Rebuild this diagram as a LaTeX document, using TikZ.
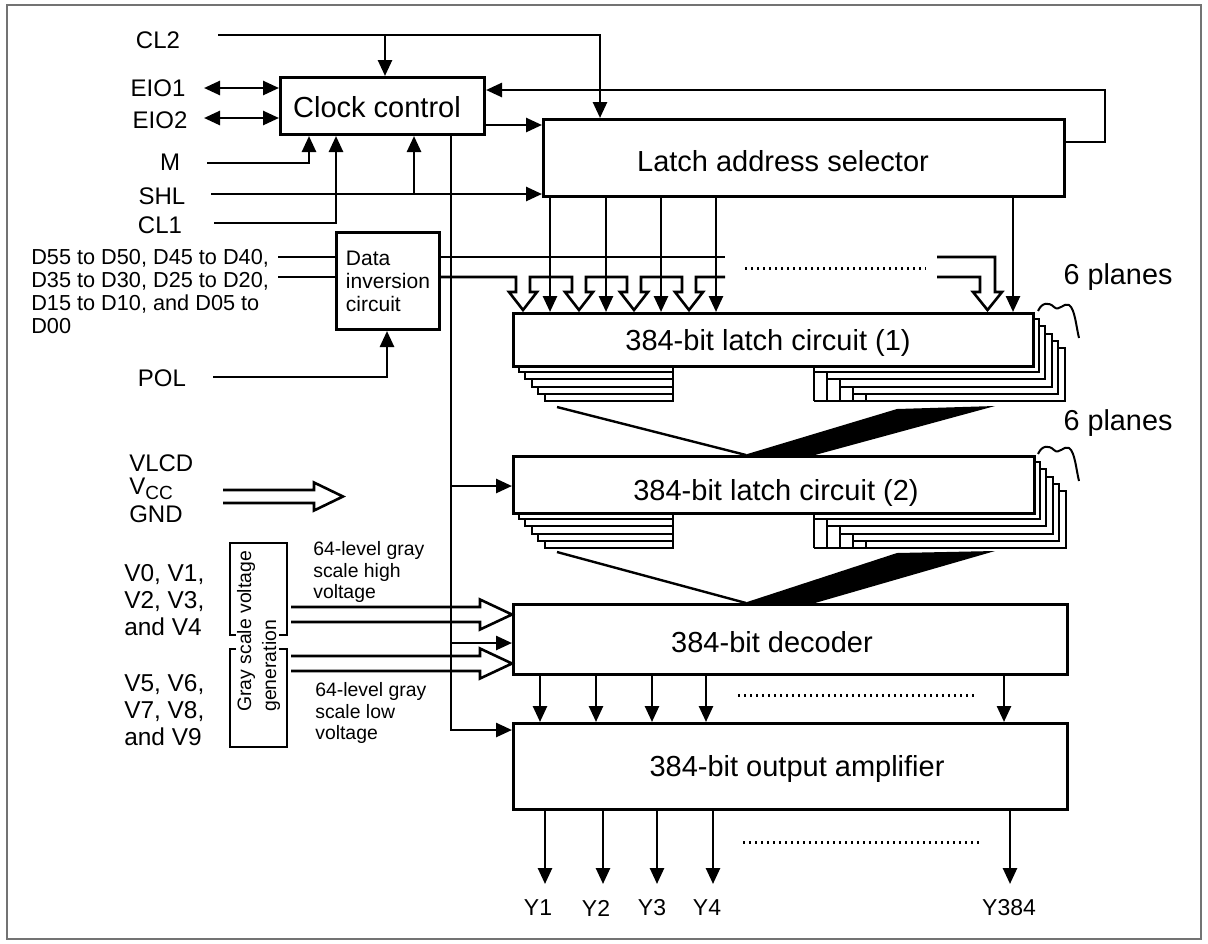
\documentclass[tikz,border=0pt]{standalone}
\usepackage{fontspec}
\setmainfont{Liberation Sans}
\usetikzlibrary{arrows.meta,calc}
\newcommand{\myplanes}[3]{%
  \foreach \k in {5,4,3,2,1}{%
    \pgfmathsetmacro{\pdx}{6.6*\k}%
    \pgfmathsetmacro{\pdy}{7.2*\k}%
    \pgfmathsetmacro{\pxr}{814+13*(\k-1)}%
    \filldraw[planest] (512+\pdx,#1+\pdy) rectangle (673,#2+\pdy);%
    \filldraw[planest] (\pxr,#1+\pdy) rectangle (#3+\pdx,#2+\pdy);%
  }%
  \foreach \k in {1,2,3,4}{%
    \pgfmathsetmacro{\pxr}{814+13*(\k-1)}%
    \draw[planest] (\pxr,#2+7.2*\k) -- (\pxr,#2+36);%
  }%
  \draw[planest] (814,#2+36) -- (866,#2+36);%
}
\begin{document}
\begin{tikzpicture}[x=0.5pt,y=-0.5pt,
  line width=1.3pt,
  arr/.style={-{Triangle[length=8pt,width=7pt]}},
  darr/.style={{Triangle[length=8pt,width=7pt]}-{Triangle[length=8pt,width=7pt]}},
  boxst/.style={draw, line width=1.5pt, fill=white, inner sep=0pt, anchor=north west},
  planest/.style={draw, line width=1pt, fill=white},
  bigtxt/.style={font=\fontsize{14.5}{17}\selectfont, inner sep=0pt},
  labtxt/.style={font=\fontsize{12}{13.5}\selectfont, inner sep=0pt},
  smalltxt/.style={font=\fontsize{9.7}{10.75}\selectfont, inner sep=0pt, align=left},
  dotln/.style={line width=1.5pt, dash pattern=on 1.2pt off 1.8pt},
  hollow/.style={line width=1.3pt, line join=miter},
]
\useasboundingbox (0,0) rectangle (1208,943);
\draw[line width=0.7pt, black!55] (7,5) rectangle (1201,939);

% ---------- boxes ----------
\node[boxst, minimum width=102pt, minimum height=28.5pt] (clk) at (279,76) {};
\node[bigtxt, anchor=base] (clkt) at (377,117) {Clock control};
\node[boxst, minimum width=260.5pt, minimum height=38.5pt] (sel) at (542,118) {};
\node[bigtxt, anchor=base] (selt) at (783,171) {Latch address selector};
\node[boxst, minimum width=51.5pt, minimum height=48.5pt, align=left,
      font=\fontsize{10.5}{11.5}\selectfont] (di) at (335,231) {Data\\inversion\\circuit};

\myplanes{312}{365}{1032}
\node[boxst, minimum width=260pt, minimum height=26.5pt] (L1) at (512,312) {};
\node[bigtxt, anchor=base] (L1t) at (768,350) {384-bit latch circuit (1)};

\myplanes{455}{512}{1033}
\node[boxst, minimum width=260.5pt, minimum height=28.5pt] (L2) at (512,455) {};
\node[bigtxt, anchor=base] (L2t) at (776,500) {384-bit latch circuit (2)};

\node[boxst, minimum width=277pt, minimum height=35pt] (dec) at (512,603) {};
\node[bigtxt, anchor=base] (dect) at (772,652) {384-bit decoder};
\node[boxst, minimum width=277pt, minimum height=43pt] (amp) at (512,722) {};
\node[bigtxt, anchor=base] (ampt) at (797,776) {384-bit output amplifier};

% ---------- left labels ----------
\node[labtxt] (lcl2) at (158,40) {CL2};
\node[labtxt] (leio1) at (158,88) {EIO1};
\node[labtxt] (leio2) at (160,120) {EIO2};
\node[labtxt] (lm) at (170,162) {M};
\node[labtxt] (lshl) at (162,196) {SHL};
\node[labtxt] (lcl1) at (160,225) {CL1};
\node[labtxt] (lpol) at (162,378) {POL};
\node[font=\fontsize{10.85}{11.5}\selectfont, align=left, anchor=west, inner sep=0pt] (ldata) at (30,292)
  {D55 to D50, D45 to D40,\\D35 to D30, D25 to D20,\\D15 to D10, and D05 to\\D00};
\node[labtxt, anchor=west] (lvlcd) at (128,463) {VLCD};
\node[labtxt, anchor=west] (lvcc) at (128,489) {V\raisebox{-0.35ex}{\fontsize{9.5}{10}\selectfont CC}};
\node[labtxt, anchor=west] (lgnd) at (128,514) {GND};
\node[font=\fontsize{12.2}{13.5}\selectfont, align=left, anchor=west, inner sep=0pt] (lv0) at (123,600) {V0, V1,\\V2, V3,\\and V4};
\node[font=\fontsize{12.2}{13.5}\selectfont, align=left, anchor=west, inner sep=0pt] (lv5) at (123,710) {V5, V6,\\V7, V8,\\and V9};
\node[smalltxt, anchor=west] (ghi) at (312,572) {64-level gray\\scale high\\voltage};
\node[smalltxt, anchor=west] (glo) at (314,713) {64-level gray\\scale low\\voltage};
\node[smalltxt, rotate=90, anchor=west] (gg1) at (246,713) {Gray scale voltage};
\node[smalltxt, rotate=90, anchor=west] (gg2) at (271,713) {generation};
\node[font=\fontsize{14.4}{16}\selectfont, inner sep=0pt] (p1) at (1118,277) {6 planes};
\node[font=\fontsize{14.4}{16}\selectfont, inner sep=0pt] (p2) at (1118,423) {6 planes};

% gray scale box (broken sides)
\draw (236,635) -- (230,635) -- (230,543) -- (287,543) -- (287,635) -- (279,635);
\draw (236,649) -- (230,649) -- (230,747) -- (287,747) -- (287,649) -- (279,649);

% braces
\draw[line width=1pt] (1038,311) .. controls (1042,302) and (1049,302) .. (1054,307)
   .. controls (1059,312) and (1064,302) .. (1069,305) .. controls (1075,309) and (1076,326) .. (1079,338);
\draw[line width=1pt] (1038,454) .. controls (1042,445) and (1049,445) .. (1054,450)
   .. controls (1059,455) and (1064,445) .. (1069,448) .. controls (1075,452) and (1076,469) .. (1079,481);

% ---------- connectors ----------
\coordinate (cl2s) at (218,35);
\coordinate (xcl2) at (600,0);
\coordinate (xb1) at (385,0);
\draw[arr] (cl2s) -| (xcl2 |- sel.north);
\draw[arr] (xb1 |- cl2s) -- (xb1 |- clk.north);

\coordinate (e1s) at (204,88);
\coordinate (e2s) at (204,118);
\draw[darr] (e1s) -- (e1s -| clk.west);
\draw[darr] (e2s) -- (e2s -| clk.west);

\coordinate (ms) at (207,163);
\coordinate (xm) at (309,0);
\draw[arr] (ms) -| (xm |- clk.south);

\coordinate (shs) at (211,194);
\coordinate (xsh) at (414,0);
\draw[arr] (shs) -- (shs -| sel.west);
\draw[arr] (xsh |- shs) -- (xsh |- clk.south);

\coordinate (c1s) at (214,223);
\coordinate (xc1) at (336,0);
\draw[arr] (c1s) -| (xc1 |- clk.south);

\coordinate (yck) at (0,125);
\draw[arr] (clk.east |- yck) -- (sel.west |- yck);

\coordinate (yfo) at (0,142);
\coordinate (fbc) at (1105,90);
\draw[arr] (sel.east |- yfo) -| (fbc) -- (clk.east |- fbc);

\coordinate (xbus) at (451,0);
\coordinate (ybl2) at (0,486);
\coordinate (ybdec) at (0,643);
\coordinate (ybamp) at (0,730);
\draw[arr] (xbus |- clk.south) |- (amp.west |- ybamp);
\draw[arr] (xbus |- ybl2) -- (L2.west |- ybl2);
\draw[arr] (xbus |- ybdec) -- (dec.west |- ybdec);

\coordinate (d1s) at (278,257);
\coordinate (d2s) at (278,277);
\draw (d1s) -- (d1s -| di.west);
\draw (d2s) -- (d2s -| di.west);

\coordinate (ps) at (213,377);
\coordinate (xp) at (387,0);
\draw[arr] (ps) -| (xp |- di.south);

% data bus to latch circuit (1)
\coordinate (bu1e) at (725,257);
\draw (di.east |- d1s) -- (bu1e);
\draw[hollow] (di.east |- d2s) foreach \c in {523,579,634,689}{
   -- (\c-7,277) -- (\c-7,292) -- (\c-14,292) -- (\c,310) -- (\c+14,292) -- (\c+7,292) -- (\c+7,277)} -- (725,277);
\coordinate (bu2s) at (937,257);
\draw[hollow] (bu2s) -- (995,257) -- (995,292) -- (1002,292) -- (987.5,310) -- (973,292) -- (980,292) -- (980,277) -- (937,277);
\draw[dotln] (745,268) -- (926,268);

\foreach \x [count=\i] in {550,606,661,716,1013}{
  \coordinate (sa\i) at (\x,0);
  \draw[arr] (sa\i |- sel.south) -- (sa\i |- L1.north);
}

% transfer wedges
\fill (897,409) -- (995,406) -- (815,455) -- (744,455) -- cycle;
\draw[line width=1.2pt] (557,407) -- (746,455);
\fill (897,553) -- (995,551) -- (815,603) -- (744,603) -- cycle;
\draw[line width=1.2pt] (557,552) -- (746,603);

% supply and gray-scale hollow arrows
\coordinate (vccs) at (223,490);
\draw[hollow] (vccs) -- (314,490) -- (314,482.5) -- (343,496.5) -- (314,510.5) -- (314,503) -- (223,503);
\coordinate (yh) at (0,614.5);
\coordinate (yl) at (0,663.5);
\draw[hollow] (291,607) -- (480,607) -- (480,599.5) -- (dec.west |- yh) -- (480,629.5) -- (480,622) -- (291,622);
\draw[hollow] (291,656) -- (480,656) -- (480,648.5) -- (dec.west |- yl) -- (480,678.5) -- (480,671) -- (291,671);

% decoder -> amplifier
\foreach \x [count=\i] in {540,596,652,706,1004}{
  \coordinate (da\i) at (\x,0);
  \draw[arr] (da\i |- dec.south) -- (da\i |- amp.north);
}
\draw[dotln] (738,695) -- (977,695);

% outputs
\node[font=\fontsize{11.5}{13}\selectfont, inner sep=0pt] (y1) at (538,908) {Y1};
\node[font=\fontsize{11.5}{13}\selectfont, inner sep=0pt] (y2) at (596,908) {Y2};
\node[font=\fontsize{11.5}{13}\selectfont, inner sep=0pt] (y3) at (652,908) {Y3};
\node[font=\fontsize{11.5}{13}\selectfont, inner sep=0pt] (y4) at (707,908) {Y4};
\node[font=\fontsize{11.5}{13}\selectfont, inner sep=0pt] (y384) at (1009,908) {Y384};
\coordinate (yo) at (0,884);
\foreach \x/\n in {545/y1,603/y2,657/y3,713/y4,1010/y384}{
  \coordinate (oa\n) at (\x,0);
  \draw[arr] (oa\n |- amp.south) -- (oa\n |- yo);
}
\draw[dotln] (743,842) -- (982,842);
\end{tikzpicture}
\end{document}
